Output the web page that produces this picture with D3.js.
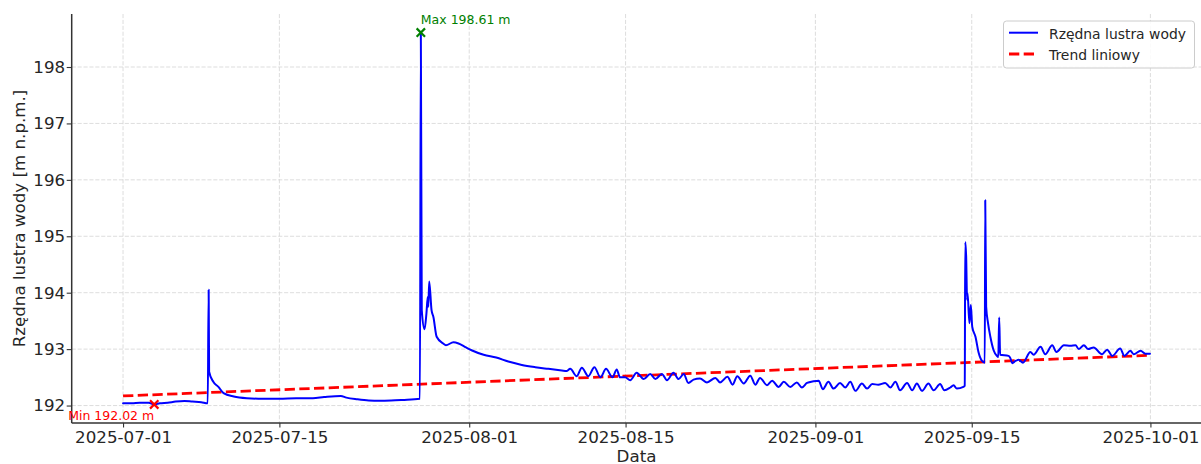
<!DOCTYPE html>
<html>
<head>
<meta charset="utf-8">
<script src="https://cdn.jsdelivr.net/npm/d3@7"></script>
<style>
  html, body { margin: 0; padding: 0; background: #fff; }
  svg { display: block; font-family: "DejaVu Sans", sans-serif; }
</style>
</head>
<body>
<svg id="chart" width="1201" height="464"></svg>
<script>
// Water surface level readings [timestamp, m n.p.m.]
const levelReadings = [
  ["2025-07-01 00:00",192.04],["2025-07-01 19:00",192.04],["2025-07-02 12:00",192.05],
  ["2025-07-03 07:00",192.05],["2025-07-03 19:00",192.02],["2025-07-04 07:00",192.04],
  ["2025-07-05 00:00",192.05],["2025-07-05 17:00",192.07],["2025-07-06 12:00",192.08],
  ["2025-07-07 05:00",192.07],["2025-07-08 00:00",192.06],["2025-07-08 14:00",192.04],
  ["2025-07-08 16:00",194.05],["2025-07-08 17:00",192.60],["2025-07-09 02:00",192.42],
  ["2025-07-09 13:00",192.33],["2025-07-10 00:00",192.22],["2025-07-10 22:00",192.16],
  ["2025-07-12 02:00",192.13],["2025-07-13 12:00",192.12],["2025-07-15 00:00",192.12],
  ["2025-07-16 12:00",192.13],["2025-07-18 00:00",192.13],["2025-07-19 00:00",192.15],
  ["2025-07-20 12:00",192.17],["2025-07-21 00:00",192.14],["2025-07-22 00:00",192.11],
  ["2025-07-23 00:00",192.09],["2025-07-24 00:00",192.085],["2025-07-25 00:00",192.09],
  ["2025-07-26 00:00",192.10],["2025-07-27 14:00",192.12],["2025-07-27 16:00",198.61],
  ["2025-07-27 18:00",193.69],["2025-07-28 00:00",193.35],["2025-07-28 04:00",193.63],
  ["2025-07-28 07:00",193.93],["2025-07-28 08:00",193.75],["2025-07-28 10:00",194.20],
  ["2025-07-28 15:00",193.69],["2025-07-28 19:00",193.57],["2025-07-29 02:00",193.22],
  ["2025-07-29 16:00",193.10],["2025-07-29 22:00",193.07],["2025-07-30 14:00",193.12],
  ["2025-07-31 01:00",193.10],["2025-07-31 17:00",193.03],["2025-08-01 05:00",192.98],
  ["2025-08-02 07:00",192.90],["2025-08-03 10:00",192.85],["2025-08-04 12:00",192.78],
  ["2025-08-05 17:00",192.72],["2025-08-06 22:00",192.68],["2025-08-08 02:00",192.65],
  ["2025-08-09 07:00",192.62],["2025-08-09 17:00",192.61],["2025-08-10 01:00",192.65],
  ["2025-08-10 15:00",192.52],["2025-08-11 02:00",192.67],["2025-08-11 16:00",192.52],
  ["2025-08-12 05:00",192.68],["2025-08-12 18:00",192.50],["2025-08-13 06:00",192.65],
  ["2025-08-13 20:00",192.50],["2025-08-14 05:00",192.64],["2025-08-14 12:00",192.50],
  ["2025-08-14 23:00",192.50],["2025-08-15 10:00",192.45],["2025-08-16 00:00",192.58],
  ["2025-08-16 15:00",192.47],["2025-08-17 05:00",192.56],["2025-08-17 16:00",192.47],
  ["2025-08-18 06:00",192.56],["2025-08-18 17:00",192.45],["2025-08-19 07:00",192.58],
  ["2025-08-19 18:00",192.47],["2025-08-20 05:00",192.56],["2025-08-20 15:00",192.40],
  ["2025-08-21 02:00",192.46],["2025-08-21 16:00",192.48],["2025-08-22 07:00",192.41],
  ["2025-08-23 01:00",192.49],["2025-08-23 11:00",192.41],["2025-08-24 03:00",192.51],
  ["2025-08-24 14:00",192.37],["2025-08-25 00:00",192.52],["2025-08-25 14:00",192.39],
  ["2025-08-26 04:00",192.53],["2025-08-26 15:00",192.37],["2025-08-27 01:00",192.49],
  ["2025-08-27 16:00",192.36],["2025-08-28 03:00",192.44],["2025-08-28 17:00",192.33],
  ["2025-08-29 04:00",192.42],["2025-08-29 18:00",192.33],["2025-08-30 08:00",192.41],
  ["2025-08-30 19:00",192.32],["2025-08-31 06:00",192.40],["2025-08-31 20:00",192.43],
  ["2025-09-01 07:00",192.44],["2025-09-01 16:00",192.29],["2025-09-02 04:00",192.42],
  ["2025-09-02 15:00",192.30],["2025-09-03 05:00",192.40],["2025-09-03 16:00",192.32],
  ["2025-09-04 03:00",192.42],["2025-09-04 14:00",192.26],["2025-09-05 04:00",192.39],
  ["2025-09-05 15:00",192.30],["2025-09-06 02:00",192.38],["2025-09-06 15:00",192.37],
  ["2025-09-07 06:00",192.40],["2025-09-07 17:00",192.32],["2025-09-08 04:00",192.42],
  ["2025-09-08 14:00",192.27],["2025-09-09 05:00",192.40],["2025-09-09 16:00",192.27],
  ["2025-09-10 02:00",192.39],["2025-09-10 13:00",192.26],["2025-09-11 03:00",192.39],
  ["2025-09-11 14:00",192.27],["2025-09-12 04:00",192.38],["2025-09-12 13:00",192.27],
  ["2025-09-13 02:00",192.32],["2025-09-13 09:00",192.36],["2025-09-13 16:00",192.30],
  ["2025-09-14 06:00",192.33],["2025-09-14 09:00",192.35],["2025-09-14 10:00",194.90],
  ["2025-09-14 12:00",194.64],["2025-09-14 14:00",193.87],["2025-09-14 15:00",193.99],
  ["2025-09-14 19:00",193.46],["2025-09-14 22:00",193.78],["2025-09-15 01:00",193.40],
  ["2025-09-15 08:00",193.22],["2025-09-15 15:00",192.93],["2025-09-15 22:00",192.79],
  ["2025-09-16 04:00",192.76],["2025-09-16 05:00",195.64],["2025-09-16 07:00",193.75],
  ["2025-09-16 11:00",193.46],["2025-09-16 16:00",193.22],["2025-09-16 23:00",192.98],
  ["2025-09-17 06:00",192.88],["2025-09-17 09:00",192.86],["2025-09-17 11:00",193.56],
  ["2025-09-17 13:00",192.90],["2025-09-18 07:00",192.88],["2025-09-18 11:00",192.84],
  ["2025-09-18 15:00",192.75],["2025-09-18 22:00",192.79],["2025-09-19 05:00",192.81],
  ["2025-09-19 14:00",192.76],["2025-09-20 06:00",192.95],["2025-09-20 13:00",192.90],
  ["2025-09-21 04:00",193.04],["2025-09-21 14:00",192.91],["2025-09-22 05:00",193.07],
  ["2025-09-22 14:00",192.95],["2025-09-23 06:00",193.07],["2025-09-23 20:00",193.06],
  ["2025-09-24 07:00",193.07],["2025-09-24 14:00",193.00],["2025-09-25 01:00",193.07],
  ["2025-09-25 10:00",193.00],["2025-09-25 22:00",193.03],["2025-09-26 16:00",192.91],
  ["2025-09-27 03:00",192.99],["2025-09-27 14:00",192.88],["2025-09-28 07:00",193.01],
  ["2025-09-28 16:00",192.88],["2025-09-29 05:00",192.97],["2025-09-29 12:00",192.91],
  ["2025-09-30 03:00",192.97],["2025-09-30 13:00",192.92],["2025-09-30 23:00",192.92]
];

// Linear trend endpoints
const trendLine = [["2025-07-01 00:00",192.17],["2025-09-30 23:00",192.89]];

const xTickDates = ["2025-07-01","2025-07-15","2025-08-01","2025-08-15","2025-09-01","2025-09-15","2025-10-01"];
const yTickValues = [192, 193, 194, 195, 196, 197, 198];

const legendLabels = ["Rzędna lustra wody", "Trend liniowy"];
const axisTitles = { x: "Data", y: "Rzędna lustra wody [m n.p.m.]" };

const parseTime = d3.timeParse("%Y-%m-%d %H:%M");
const parseDay = d3.timeParse("%Y-%m-%d");

const series = levelReadings.map(([t, v]) => ({ t: parseTime(t), v }));
const trend = trendLine.map(([t, v]) => ({ t: parseTime(t), v }));

const plot = { left: 71.7, right: 1201.3, top: 14, bottom: 423 };

// 5% padding on both axes around the data extent
const tExt = d3.extent(series, d => d.t);
const tPad = (tExt[1] - tExt[0]) * 0.05;
const vExt = d3.extent(series, d => d.v);
const vPad = (vExt[1] - vExt[0]) * 0.05;

const x = d3.scaleTime()
  .domain([new Date(+tExt[0] - tPad), new Date(+tExt[1] + tPad)])
  .range([plot.left, plot.right]);
const y = d3.scaleLinear()
  .domain([vExt[0] - vPad, vExt[1] + vPad])
  .range([plot.bottom, plot.top]);

const svg = d3.select("#chart");
const textColor = "#262626";

// Grid
const grid = svg.append("g").attr("class", "grid")
  .attr("stroke", "#d4d4d4").attr("stroke-width", 0.8).attr("stroke-dasharray", "4.1,1.8");
grid.selectAll("line.gx").data(xTickDates.map(parseDay)).join("line")
  .attr("x1", d => x(d)).attr("x2", d => x(d))
  .attr("y1", plot.top).attr("y2", plot.bottom);
grid.selectAll("line.gy").data(yTickValues).join("line")
  .attr("x1", plot.left).attr("x2", plot.right)
  .attr("y1", d => y(d)).attr("y2", d => y(d));

// Axes
const xAxis = d3.axisBottom(x)
  .tickValues(xTickDates.map(parseDay))
  .tickFormat(d3.timeFormat("%Y-%m-%d"))
  .tickSizeOuter(0).tickSize(4.5).tickPadding(4);
const yAxis = d3.axisLeft(y)
  .tickValues(yTickValues)
  .tickFormat(d3.format("d"))
  .tickSizeOuter(0).tickSize(5).tickPadding(1.5);

const gx = svg.append("g").attr("transform", `translate(0,${plot.bottom})`).call(xAxis);
const gy = svg.append("g").attr("transform", `translate(${plot.left},0)`).call(yAxis);
gx.select(".domain").attr("d", `M${plot.left},0H${plot.right}`);
gy.select(".domain").attr("d", `M0,${plot.bottom}V${plot.top}`);
[gx, gy].forEach(g => {
  g.select(".domain").attr("stroke", "#333").attr("stroke-width", 1.5);
  g.selectAll(".tick line").attr("stroke", "#333").attr("stroke-width", 1.1);
  g.selectAll(".tick text").attr("fill", textColor)
    .attr("font-size", "16.7px").attr("font-family", "DejaVu Sans, sans-serif");
});

// Axis titles
svg.append("text")
  .attr("x", (plot.left + plot.right) / 2).attr("y", 461.5)
  .attr("text-anchor", "middle").attr("font-size", "16.7px").attr("fill", textColor)
  .text(axisTitles.x);
svg.append("text")
  .attr("transform", `translate(25,${(plot.top + plot.bottom) / 2}) rotate(-90)`)
  .attr("text-anchor", "middle").attr("font-size", "16.7px").attr("fill", textColor)
  .text(axisTitles.y);

// Trend line
const straight = d3.line().x(d => x(d.t)).y(d => y(d.v));
svg.append("path").datum(trend)
  .attr("d", straight).attr("fill", "none")
  .attr("stroke", "#ff0000").attr("stroke-width", 2.8)
  .attr("stroke-dasharray", "10.3,4.4");

// Water level series (rounded between readings, no overshoot)
const smooth = d3.line().x(d => x(d.t)).y(d => y(d.v)).curve(d3.curveMonotoneX);
svg.append("path").datum(series)
  .attr("d", smooth).attr("fill", "none")
  .attr("stroke", "#0000ff").attr("stroke-width", 2)
  .attr("stroke-linejoin", "round").attr("stroke-linecap", "round");

// Extremes
const maxPt = series.reduce((a, b) => (b.v > a.v ? b : a));
const minPt = series.reduce((a, b) => (b.v < a.v ? b : a));
const fmt = d3.format(".2f");

function cross(cx, cy, color) {
  const s = 4.2;
  svg.append("path")
    .attr("d", `M${cx - s},${cy - s}L${cx + s},${cy + s}M${cx - s},${cy + s}L${cx + s},${cy - s}`)
    .attr("stroke", color).attr("stroke-width", 2.2).attr("fill", "none");
}
cross(x(maxPt.t), y(maxPt.v), "#008000");
cross(x(minPt.t), y(minPt.v), "#ff0000");

svg.append("text")
  .attr("x", x(maxPt.t)).attr("y", y(maxPt.v) - 8.4)
  .attr("font-size", "12.5px").attr("fill", "#008000")
  .text(`Max ${fmt(maxPt.v)} m`);
svg.append("text")
  .attr("x", x(minPt.t)).attr("y", y(minPt.v) + 15.6)
  .attr("text-anchor", "end")
  .attr("font-size", "12.5px").attr("fill", "#ff0000")
  .text(`Min ${fmt(minPt.v)} m`);

// Legend
const lg = svg.append("g").attr("transform", "translate(1003.5,21)");
lg.append("rect").attr("width", 191).attr("height", 47).attr("rx", 3)
  .attr("fill", "#fff").attr("fill-opacity", 0.85)
  .attr("stroke", "#cccccc").attr("stroke-width", 1);
lg.append("line").attr("x1", 5.5).attr("x2", 34.5).attr("y1", 11.7).attr("y2", 11.7)
  .attr("stroke", "#0000ff").attr("stroke-width", 2);
lg.append("line").attr("x1", 5.5).attr("x2", 34.5).attr("y1", 33).attr("y2", 33)
  .attr("stroke", "#ff0000").attr("stroke-width", 2.8).attr("stroke-dasharray", "10.3,4.4");
lg.selectAll("text.lbl").data(legendLabels).join("text")
  .attr("x", 45.5).attr("y", (d, i) => 17.5 + i * 21)
  .attr("font-size", "13.9px").attr("fill", textColor)
  .text(d => d);
</script>
</body>
</html>
